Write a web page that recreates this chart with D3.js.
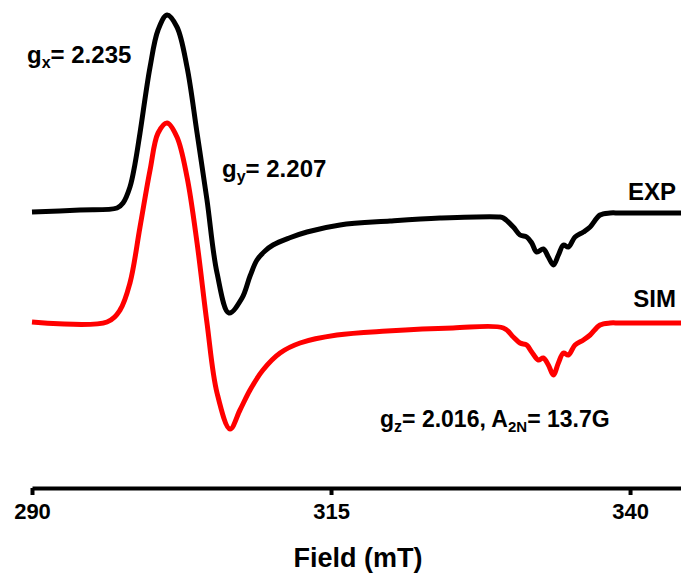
<!DOCTYPE html>
<html>
<head>
<meta charset="utf-8">
<script src="https://cdn.jsdelivr.net/npm/d3@7"></script>
<style>
  body { margin: 0; background: #fff; }
  svg { display: block; }
  .lbl { font-family: "Liberation Sans", Arial, sans-serif; font-weight: bold; font-size: 24px; fill: #000; }
  .tick text { font-family: "Liberation Sans Narrow", "Liberation Sans", Arial, sans-serif; font-weight: bold; font-size: 22px; }
</style>
</head>
<body>
<div id="main"></div>
<script>

var width = 681;
var height = 575;

// magnetic field (mT) and intensity (a.u.)
var expField = [290.0, 294.01, 297.11, 297.61, 298.19, 298.61, 299.03, 299.87, 300.54, 301.29, 302.12,
  302.96, 303.80, 304.63, 305.47, 306.47, 307.56, 308.23, 308.81, 309.48, 310.15, 311.5, 312.99, 315.75,
  319.93, 324.11, 329.13, 329.41, 330.24, 330.80, 331.36, 331.78, 332.20, 332.75,
  333.17, 333.59, 334.01, 334.43, 334.84, 335.40, 336.10, 336.66, 337.49, 338.33,
  339.16, 344.26];
var expSignal = [0.00, 0.02, 0.04, 0.09, 0.25, 0.48, 0.79, 1.45, 1.82, 1.97, 1.85,
  1.45, 0.79, 0.12, -0.61, -1.01, -0.86, -0.64, -0.48, -0.39, -0.33, -0.26, -0.20, -0.13,
  -0.09, -0.06, -0.05, -0.06, -0.15, -0.23, -0.25, -0.31, -0.40, -0.37,
  -0.45, -0.53, -0.43, -0.33, -0.35, -0.25, -0.20, -0.15, -0.03, -0.01,
  -0.01, -0.01];

var simField = [290.0, 296.27, 297.36, 298.19, 299.03, 299.87, 300.54, 301.29, 302.12, 302.96,
  303.80, 304.63, 305.47, 306.56, 307.39, 308.23, 309.31, 310.74, 312.41, 315.50,
  319.68, 325.20, 329.41, 330.24, 330.80, 331.36, 331.78, 332.33, 332.75, 333.17,
  333.59, 334.01, 334.43, 334.84, 335.40, 336.10, 336.66, 337.49, 338.33, 339.16,
  344.26];
var simSignal = [0.00, 0.00, 0.12, 0.39, 0.95, 1.52, 1.89, 1.99, 1.85, 1.45,
  0.79, -0.01, -0.71, -1.07, -0.88, -0.68, -0.48, -0.31, -0.21, -0.13,
  -0.09, -0.06, -0.06, -0.15, -0.21, -0.23, -0.30, -0.38, -0.36, -0.43,
  -0.53, -0.41, -0.31, -0.33, -0.23, -0.18, -0.13, -0.03, -0.01, -0.01,
  -0.01];

var xTicks = [290, 315, 340];
var offsets = [0, -1.10];   // EXP, SIM vertical stacking
var names = ["EXP", "SIM"];
var colors = ["#000000", "#ff0000"];

var AXIS_Y = 488;

function init(){
  var svg = d3.select("#main")
    .append("svg")
    .attr("width", width)
    .attr("height", height);

  var x = d3.scaleLinear().domain([290, 344.26]).range([32, 681]);
  var y = d3.scaleLinear().domain([-2.76, 2.12]).range([AXIS_Y, 0]);

  var series = [
    {name: names[0], field: expField, sig: expSignal, off: offsets[0], color: colors[0]},
    {name: names[1], field: simField, sig: simSignal, off: offsets[1], color: colors[1]}
  ];

  var line = d3.line()
    .x(function(d){ return x(d[0]); })
    .y(function(d){ return y(d[1]); })
    .curve(d3.curveCatmullRom.alpha(0.5));

  svg.selectAll(".trace")
    .data(series)
    .enter()
    .append("path")
    .attr("class", "trace")
    .attr("fill", "none")
    .attr("stroke", function(d){ return d.color; })
    .attr("stroke-width", 5)
    .attr("stroke-linejoin", "round")
    .attr("d", function(d){
      return line(d.field.map(function(f, i){ return [f, d.sig[i] + d.off]; }));
    });

  // x axis
  var axis = svg.append("g")
    .attr("transform", "translate(0," + AXIS_Y + ")")
    .call(d3.axisBottom(x).tickValues(xTicks).tickSize(7).tickSizeOuter(0).tickPadding(8));
  axis.select(".domain").attr("stroke-width", 4);
  axis.selectAll(".tick line").attr("stroke-width", 4);

  svg.append("text")
    .attr("x", 358)
    .attr("y", 567)
    .attr("text-anchor", "middle")
    .attr("class", "lbl")
    .style("font-family", "'Liberation Sans Narrow', 'Liberation Sans', Arial, sans-serif")
    .style("font-size", "27px")
    .text("Field (mT)");

  // annotations
  function gLabel(px, py, sub, rest){
    var t = svg.append("text").attr("class", "lbl").attr("x", px).attr("y", py);
    t.append("tspan").text("g");
    t.append("tspan").attr("dy", 5).style("font-size", "16px").text(sub);
    t.append("tspan").attr("dy", -5).text(rest);
    return t;
  }
  gLabel(27, 63, "x", "= 2.235");
  gLabel(222, 177, "y", "= 2.207");

  var gz = gLabel(380, 427, "z", "= 2.016, A");
  gz.style("font-size", "23px");
  gz.append("tspan").attr("dy", 5).style("font-size", "15px").text("2N");
  gz.append("tspan").attr("dy", -5).text("= 13.7G");

  svg.selectAll(".name")
    .data(series)
    .enter()
    .append("text")
    .attr("class", "lbl name")
    .attr("text-anchor", "end")
    .attr("x", 676)
    .attr("y", function(d, i){ return i === 0 ? 200 : 307; })
    .text(function(d){ return d.name; });
}

init();
</script>
</body>
</html>
